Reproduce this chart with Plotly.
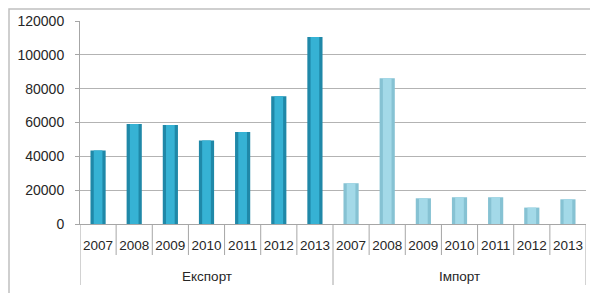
import plotly.graph_objects as go

years = ["2007", "2008", "2009", "2010", "2011", "2012", "2013"]
groups = ["Експорт", "Імпорт"]
export_vals = [43500, 59100, 58500, 49400, 54400, 75500, 110500]
import_vals = [24100, 86200, 15200, 15800, 15800, 9700, 14600]
y_ticks = [0, 20000, 40000, 60000, 80000, 100000, 120000]

n = len(years)
x_exp = list(range(n))
x_imp = [n + i for i in range(n)]

fig = go.Figure()
# outer (edge shading) and inner (highlight) layers for a cylinder-like look
fig.add_trace(go.Bar(x=x_exp, y=export_vals, width=0.42,
                     marker=dict(color="#1f88a8", line=dict(width=0)),
                     showlegend=False, hoverinfo="skip"))
fig.add_trace(go.Bar(x=x_exp, y=export_vals, width=0.24,
                     marker=dict(color="#36b2d4", line=dict(width=0)),
                     showlegend=False))
fig.add_trace(go.Bar(x=x_imp, y=import_vals, width=0.42,
                     marker=dict(color="#86c2d3", line=dict(width=0)),
                     showlegend=False, hoverinfo="skip"))
fig.add_trace(go.Bar(x=x_imp, y=import_vals, width=0.24,
                     marker=dict(color="#a3d9e8", line=dict(width=0)),
                     showlegend=False))

plot_h = 203.0
plot_w = 506.0
shapes = []
line_col = "#a6a6a6"
for k in range(2 * n + 1):
    long = k in (0, n, 2 * n)
    shapes.append(dict(type="line", xref="x", yref="paper",
                       x0=k - 0.5, x1=k - 0.5, y0=0,
                       y1=-(61 if long else 31) / plot_h,
                       line=dict(color=line_col, width=1)))
shapes.append(dict(type="rect", xref="paper", yref="paper",
                   x0=-71 / plot_w, x1=1 + 30 / plot_w, y0=-90 / plot_h,
                   y1=1 + 12 / plot_h,
                   line=dict(color="#c0c0c0", width=1.5)))

annotations = [dict(x=(n - 1) / 2, y=-52 / plot_h, xref="x", yref="paper",
                    text=groups[0], showarrow=False, yanchor="middle",
                    font=dict(size=13.5)),
               dict(x=n + (n - 1) / 2, y=-52 / plot_h, xref="x", yref="paper",
                    text=groups[1], showarrow=False, yanchor="middle",
                    font=dict(size=13.5))]

fig.update_layout(
    width=590, height=285,
    margin=dict(l=72, r=12, t=13, b=69, autoexpand=False),
    paper_bgcolor="white", plot_bgcolor="white",
    font=dict(family="Liberation Sans", size=13, color="#262626"),
    barmode="overlay",
    xaxis=dict(range=[-0.5, 2 * n - 0.5], tickvals=x_exp + x_imp,
               ticktext=years + years, showline=True, linecolor=line_col,
               ticks="", showgrid=False, zeroline=False, tickangle=0,
               tickfont=dict(size=13.5), ticklabelstandoff=9,
               automargin=False),
    yaxis=dict(range=[0, 120000], tickvals=y_ticks, tickformat="d",
               showgrid=True, gridcolor="#b3b3b3", gridwidth=1,
               showline=True, linecolor=line_col, ticks="outside",
               ticklen=4, tickcolor=line_col, zeroline=False,
               ticklabelstandoff=8, tickfont=dict(size=14),
               automargin=False),
    shapes=shapes, annotations=annotations,
)
fig.write_html("out.html")
